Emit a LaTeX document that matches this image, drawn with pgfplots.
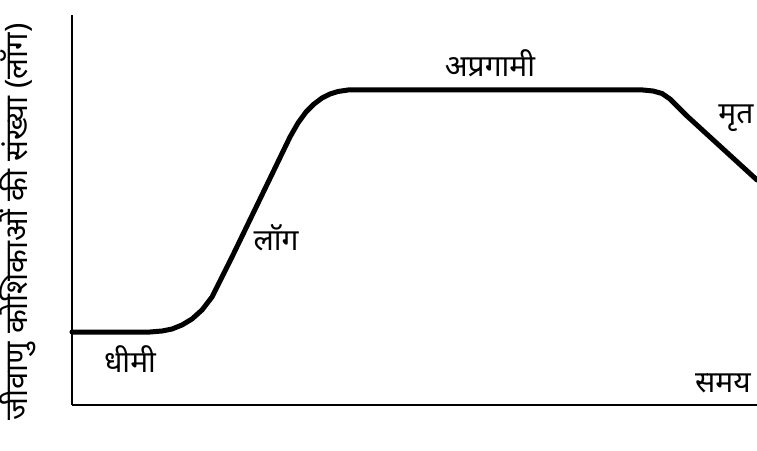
\documentclass[border=0pt]{standalone}
\usepackage{fontspec}
\newfontfamily\deva[Script=Devanagari]{Noto Sans}
\usepackage{pgfplots}
\pgfplotsset{compat=1.18}

\begin{document}
\begin{tikzpicture}[x=1pt,y=1pt,
    lbl/.style={font=\deva\fontsize{30}{34}\selectfont}]
\path[use as bounding box] (-72,-45) rectangle (685,405);

\begin{axis}[
    at={(0,0)}, anchor=south west,
    scale only axis, width=685pt, height=390pt,
    xmin=0, xmax=685, ymin=0, ymax=390,
    axis lines=left, axis line style={line width=2pt, -},
    xtick=\empty, ytick=\empty,
    clip=false,
  ]
  % growth curve (pixels from the axis corner)
  \addplot[black, line width=5pt, line join=round, line cap=round] coordinates {
    (0,73) (78,73) (90,74) (100,76) (110,80) (120,86) (130,95) (140,108)
    (150,128) (160,148) (189,208) (218,268)
    (226,282) (234,293) (242,301) (250,307) (258,311) (266,313.5) (276,315)
    (571,315) (581,314) (590,311.5) (598,306) (606,298) (615,289) (685,225)
  };

  \node[font=\deva\fontsize{31}{36}\selectfont, rotate=90]
    at (axis cs:-54,183) {जीवाणु कोशिकाओं की संख्या (लॉग)};
  \node[lbl] at (axis cs:58,46) {धीमी};
  \node[lbl] at (axis cs:204,167) {लॉग};
  \node[lbl] at (axis cs:418,342) {अप्रगामी};
  \node[lbl] at (axis cs:664,287) {मृत};
  \node[lbl] at (axis cs:651,22) {समय};
\end{axis}
\end{tikzpicture}
\end{document}
